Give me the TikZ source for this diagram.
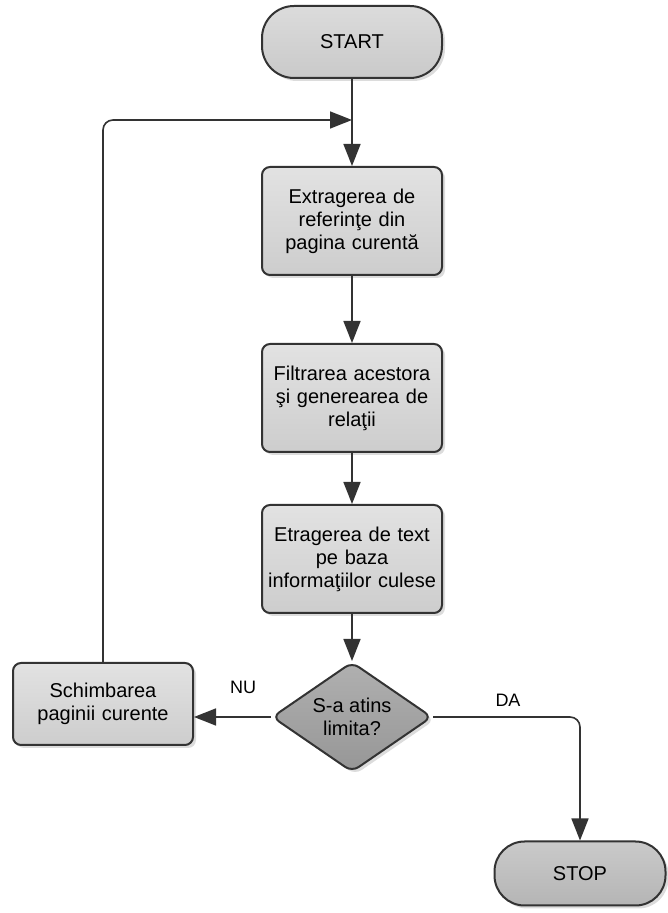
\documentclass[tikz,border=0pt]{standalone}
\usepackage{fontspec}
\setmainfont{Liberation Sans}
\usepackage{tikz}
\usetikzlibrary{shapes,arrows.meta,shadows}

\definecolor{edge}{HTML}{333333}
\definecolor{boxtop}{HTML}{E2E2E2}
\definecolor{boxbot}{HTML}{CDCDCD}

\tikzset{
  shade/.style={drop shadow={shadow xshift=3pt,shadow yshift=-3pt,fill=gray!55}},
  termbox/.style={draw=edge,line width=2pt,rectangle,rounded corners=32pt,
    minimum width=180pt,minimum height=72pt,shade},
  procbox/.style={draw=edge,line width=2pt,rectangle,rounded corners=8pt,
    text width=172pt,inner sep=4pt,align=center,minimum height=108pt,
    top color=boxtop,bottom color=boxbot,shade},
  decbox/.style={draw=edge,line width=2pt,diamond,rounded corners=8pt,aspect=1.45,
    inner sep=0pt,minimum width=160pt,minimum height=110pt,align=center,
    top color=gray!62,bottom color=gray!82,shade},
  conn/.style={draw=edge,line width=1.6pt,-{Triangle[length=22pt,width=17pt]}},
  lbl/.style={font=\fontsize{18}{22}\selectfont}
}

\begin{document}
\begin{tikzpicture}[x=10pt,y=10pt,font=\fontsize{20}{23}\selectfont]

\useasboundingbox (0,0) rectangle (66.8,91.3);

\node[termbox,top color=gray!28,bottom color=gray!42] (start) at (35.2,87.1) {START};
\node[procbox] (refs) at (35.2,69.2) {Extragerea de\\referin\c{t}e din\\pagina curent\u{a}};
\node[procbox] (filt) at (35.2,51.5) {Filtrarea acestora\\\c{s}i generearea de\\rela\c{t}ii};
\node[procbox] (text) at (35.2,35.4) {Etragerea de text\\pe baza\\informa\c{t}iilor culese};
\node[decbox] (lim) at (35.2,19.6) {S-a atins\\limita?};
\node[procbox,minimum height=82pt] (page) at (10.3,20.9) {Schimbarea\\paginii curente};
\node[termbox,rounded corners=30pt,minimum width=171pt,minimum height=64pt,
  top color=gray!42,bottom color=gray!58] (stop) at (58.0,3.95) {STOP};
\coordinate (back) at (10.3,79.3);
\coordinate (yes) at (58.0,19.6);

\draw[conn] (start) -- (refs);
\draw[conn] (refs) -- (filt);
\draw[conn] (filt) -- (text);
\draw[conn] (text) -- (lim);
\draw[conn] (lim.west) -- (lim.west -| page.east);
\draw[conn,rounded corners=10pt] (page.north) -- (back) -- (back -| start.south);
\draw[conn,rounded corners=10pt] (lim.east) -- (yes) -- (stop.north);

\node[lbl] (nu) at (24.3,22.6) {NU};
\node[lbl] (da) at (50.8,21.3) {DA};

\end{tikzpicture}
\end{document}
